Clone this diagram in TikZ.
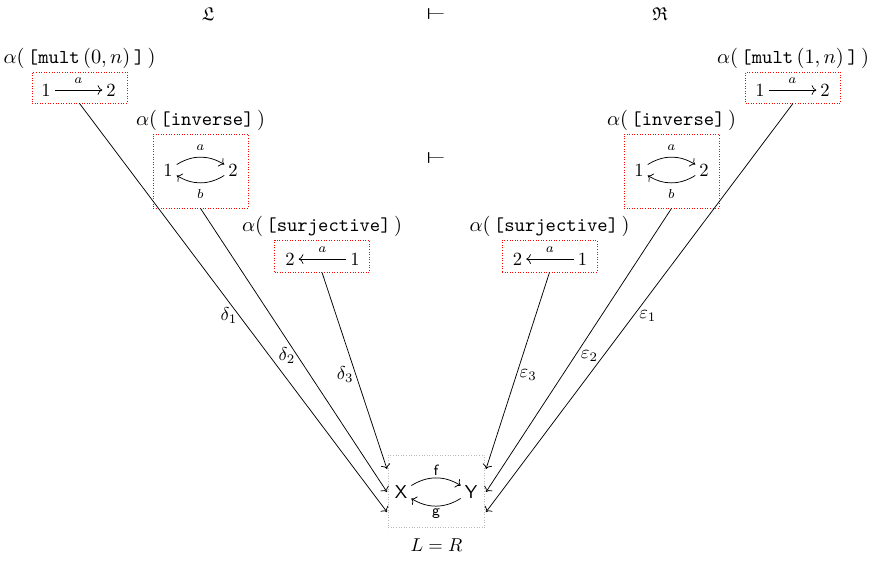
\documentclass[tikz,border=0pt]{standalone}
\usepackage{amsmath,amssymb,amsfonts}
\usepackage{tikz}
\usetikzlibrary{arrows.meta,positioning}

\begin{document}
\begin{tikzpicture}[x=0.5376pt, y=-0.5376pt,
    redbox/.style={draw=red, densely dotted, minimum width=51pt, inner sep=0pt},
    catbox/.style={draw=gray!55, densely dotted, minimum width=52pt, minimum height=39pt, inner sep=0pt},
    obj/.style={inner sep=2pt},
    title/.style={font=\fontsize{10.6}{12}\selectfont, inner sep=1.5pt},
    turnstile/.style={inner sep=1pt},
    mlabel/.style={font=\scriptsize},
    flabel/.style={font=\footnotesize\sffamily, inner sep=1pt},
    side/.style={pos=0.52, inner sep=1pt}]
    \useasboundingbox (0,0) rectangle (869,561);
    % Top row
    \node (Lcat) at (208,14) {$\mathfrak{L}$};
    \node[turnstile] (adj) at (436,14) {\scalebox{1.7}[0.85]{$\vdash$}};
    \node (Rcat) at (660,14) {$\mathfrak{R}$};
    \node[turnstile] (adj2) at (436,158) {\scalebox{1.7}[0.85]{$\vdash$}};
    % Left: mult (0,n)
    \node[redbox, minimum height=16.7pt] (L1) at (79.5,87.5) {};
    \node[title, above=0pt of L1] (L1t) {$\alpha(\,\texttt{[mult}\,(0,n)\,\texttt{]}\,)$};
    \node[obj] (l1a) at (46,90) {$1$};
    \node[obj] (l1b) at (111,90) {$2$};
    \draw[->] (l1a) -- node[above, mlabel] {$a$} (l1b);
    % Left: inverse
    \node[redbox, minimum height=39.8pt] (L2) at (200.5,171) {};
    \node[title, above=0pt of L2] (L2t) {$\alpha(\,\texttt{[inverse]}\,)$};
    \node[obj] (l2a) at (168,170) {$1$};
    \node[obj] (l2b) at (233,170) {$2$};
    \draw[->] (l2a) to[bend left=32] node[above, mlabel] {$a$} (l2b);
    \draw[->] (l2b) to[bend left=32] node[below, mlabel] {$b$} (l2a);
    % Left: surjective
    \node[redbox, minimum height=17.2pt] (L3) at (322,256) {};
    \node[title, above=0pt of L3] (L3t) {$\alpha(\,\texttt{[surjective]}\,)$};
    \node[obj] (l3b) at (290,259) {$2$};
    \node[obj] (l3a) at (355,259) {$1$};
    \draw[->] (l3a) -- node[above, mlabel] {$a$} (l3b);
    % Right: surjective
    \node[redbox, minimum height=17.2pt] (R3) at (549.5,256) {};
    \node[title, above=0pt of R3] (R3t) {$\alpha(\,\texttt{[surjective]}\,)$};
    \node[obj] (r3b) at (517.5,259) {$2$};
    \node[obj] (r3a) at (582.5,259) {$1$};
    \draw[->] (r3a) -- node[above, mlabel] {$a$} (r3b);
    % Right: inverse
    \node[redbox, minimum height=39.8pt] (R2) at (671.5,171) {};
    \node[title, above=0pt of R2] (R2t) {$\alpha(\,\texttt{[inverse]}\,)$};
    \node[obj] (r2a) at (639,170) {$1$};
    \node[obj] (r2b) at (704,170) {$2$};
    \draw[->] (r2a) to[bend left=32] node[above, mlabel] {$a$} (r2b);
    \draw[->] (r2b) to[bend left=32] node[below, mlabel] {$b$} (r2a);
    % Right: mult (1,n)
    \node[redbox, minimum height=16.7pt] (R1) at (793,87.5) {};
    \node[title, above=0pt of R1] (R1t) {$\alpha(\,\texttt{[mult}\,(1,n)\,\texttt{]}\,)$};
    \node[obj] (r1a) at (760,90) {$1$};
    \node[obj] (r1b) at (825,90) {$2$};
    \draw[->] (r1a) -- node[above, mlabel] {$a$} (r1b);
    % Bottom: X and Y
    \node[catbox] (B) at (436.5,491.5) {};
    \node[below=2pt of B] (LR) {$L = R$};
    \node[obj] (X) at (401,492) {\textsf{X}};
    \node[obj] (Y) at (471,492) {\textsf{Y}};
    \draw[->] (X) to[bend left=32] node[above, flabel] {f} (Y);
    \draw[->] (Y) to[bend left=32] node[below, flabel] {g} (X);
    % Ends on the box sides
    \coordinate (din1) at (387,512);
    \coordinate (din2) at (387,492);
    \coordinate (din3) at (387,469);
    \coordinate (ein1) at (486,512);
    \coordinate (ein2) at (486,492);
    \coordinate (ein3) at (486,469);
    % Cocones
    \draw[->] (L1.south) -- node[side, left] {$\delta_1$} (din1);
    \draw[->] (L2.south) -- node[side, left] {$\delta_2$} (din2);
    \draw[->] (L3.south) -- node[side, left] {$\delta_3$} (din3);
    \draw[->] (R1.south) -- node[side, right, inner sep=3pt] {$\varepsilon_1$} (ein1);
    \draw[->] (R2.south) -- node[side, right, inner sep=3pt] {$\varepsilon_2$} (ein2);
    \draw[->] (R3.south) -- node[side, right, inner sep=1.5pt] {$\varepsilon_3$} (ein3);
\end{tikzpicture}
\end{document}
